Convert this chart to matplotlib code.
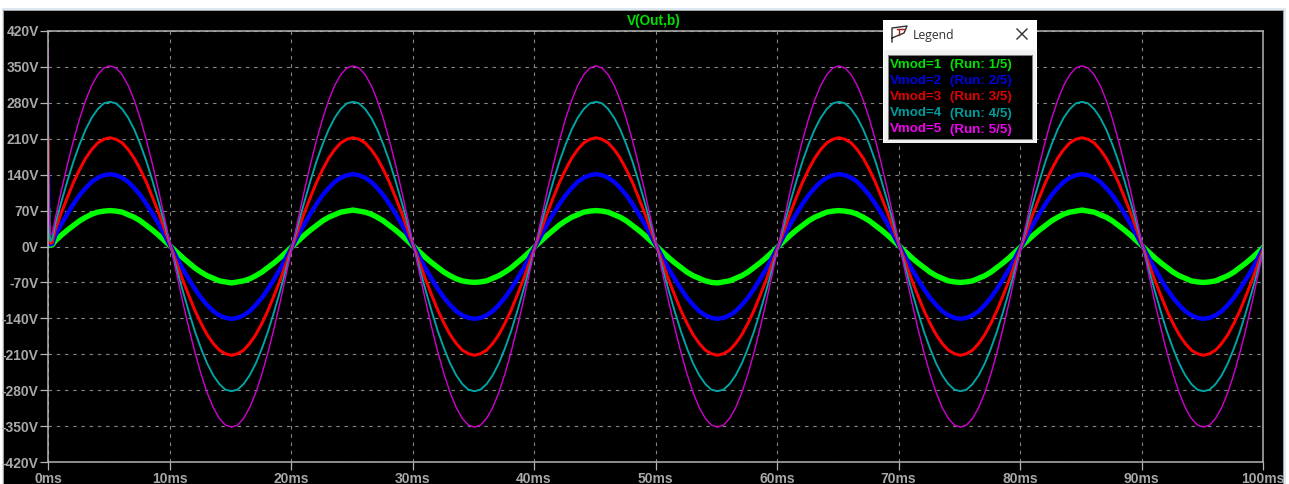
import numpy as np
import matplotlib
matplotlib.use("Agg")
import matplotlib.pyplot as plt
from matplotlib.patches import Rectangle
from matplotlib.lines import Line2D

# ---- data (volts) ----
title = "V(Out,b)"
legend_left = ["Vmod=1", "Vmod=2", "Vmod=3", "Vmod=4", "Vmod=5"]
legend_right = ["(Run: 1/5)", "(Run: 2/5)", "(Run: 3/5)", "(Run: 4/5)", "(Run: 5/5)"]
colors = ["#00ff00", "#0000ff", "#ff0000", "#00a5a5", "#d000d0"]
legend_colors = ["#00e000", "#0000e0", "#e00000", "#009c9c", "#f000f0"]
widths_px = [5.4, 4.4, 3.0, 1.9, 1.4]

x_ticks = [0, 10, 20, 30, 40, 50, 60, 70, 80, 90, 100]
x_labels = ["0ms", "10ms", "20ms", "30ms", "40ms", "50ms", "60ms", "70ms", "80ms", "90ms", "100ms"]
y_ticks = [420, 350, 280, 210, 140, 70, 0, -70, -140, -210, -280, -350, -420]
y_labels = ["420V", "350V", "280V", "210V", "140V", "70V", "0V", "-70V", "-140V", "-210V", "-280V", "-350V", "-420V"]

t_start = [0.0, 0.03, 0.08, 0.2, 0.35]
start_v1 = [70, 30, 8, 3, 3]
start_v2 = [140, 60, 15, 4, 5]
start_v3 = [210, 90, 20, 6, 8]
start_v4 = [345, 130, 30, 10, 14]
start_v5 = [393, 130, 68, 25, 24]

sample_start = 0.6
sample_step = 0.5

v1 = [
    11,22,32,41,50,57,63,67,69,70,69,67,62,57,50,41,32,22,11,0,
    -11,-22,-32,-42,-50,-57,-62,-67,-69,-71,-69,-67,-63,-57,-50,-41,-32,-22,-11,0,
    11,22,32,41,50,57,62,67,69,71,69,67,63,57,50,41,32,22,11,0,
    -11,-22,-32,-41,-50,-57,-63,-67,-69,-70,-69,-67,-62,-57,-50,-42,-32,-22,-11,0,
    11,22,32,42,50,57,62,67,69,70,69,67,62,57,50,41,32,22,11,0,
    -11,-22,-32,-41,-50,-57,-62,-67,-70,-71,-69,-67,-62,-57,-50,-41,-32,-22,-11,0,
    11,22,32,41,50,57,62,67,69,70,69,67,63,57,50,41,32,22,11,0,
    -11,-22,-32,-41,-50,-57,-62,-67,-69,-70,-69,-67,-62,-57,-50,-41,-32,-22,-11,0,
    11,22,32,41,50,57,63,67,69,71,69,67,62,57,50,41,32,22,11,0,
    -11,-22,-32,-41,-50,-57,-62,-67,-69,-70,-69,-67,-62,-57,-50,-41,-32,-22,-11,0,
]
v2 = [
    22,44,64,83,100,114,126,134,139,141,139,134,126,114,100,83,64,44,22,0,
    -22,-44,-64,-83,-100,-114,-126,-134,-139,-141,-139,-134,-126,-114,-100,-83,-64,-44,-22,0,
    22,44,64,83,100,114,126,134,139,141,139,134,126,114,100,83,64,44,22,0,
    -22,-44,-64,-83,-100,-114,-126,-134,-139,-141,-139,-134,-126,-114,-100,-83,-64,-44,-22,0,
    22,44,64,83,100,114,126,134,139,141,139,134,126,114,100,83,64,44,22,0,
    -22,-44,-64,-83,-100,-114,-126,-134,-139,-141,-139,-134,-126,-114,-100,-83,-64,-44,-22,0,
    22,44,64,83,100,114,126,134,139,141,139,134,126,114,100,83,64,44,22,0,
    -22,-44,-64,-83,-100,-114,-126,-134,-139,-141,-139,-134,-126,-114,-100,-83,-64,-44,-22,0,
    22,44,64,83,100,114,126,134,139,141,139,134,126,114,100,83,64,44,22,0,
    -22,-44,-64,-83,-100,-114,-126,-134,-139,-141,-139,-134,-126,-114,-100,-83,-64,-44,-22,0,
]
v3 = [
    33,66,96,125,150,172,189,202,209,212,209,202,189,172,150,125,96,66,33,0,
    -33,-66,-96,-125,-150,-172,-189,-202,-209,-212,-209,-202,-189,-172,-150,-125,-96,-66,-33,0,
    33,66,96,125,150,172,189,202,209,212,209,202,189,172,150,125,96,66,33,0,
    -33,-66,-96,-125,-150,-172,-189,-202,-209,-212,-209,-202,-189,-172,-150,-125,-96,-66,-33,0,
    33,66,96,125,150,172,189,202,209,212,209,202,189,172,150,125,96,66,33,0,
    -33,-66,-96,-125,-150,-172,-189,-202,-209,-212,-209,-202,-189,-172,-150,-125,-96,-66,-33,0,
    33,66,96,125,150,172,189,202,209,212,209,202,189,172,150,125,96,66,33,0,
    -33,-66,-96,-125,-150,-172,-189,-202,-209,-212,-209,-202,-189,-172,-150,-125,-96,-66,-33,0,
    33,66,96,125,150,172,189,202,209,212,209,202,189,172,150,125,96,66,33,0,
    -33,-66,-96,-125,-150,-172,-189,-202,-209,-212,-209,-202,-189,-172,-150,-125,-96,-66,-33,0,
]
v4 = [
    44,87,128,166,199,228,251,268,279,282,279,268,251,228,199,166,128,87,44,0,
    -44,-87,-128,-166,-199,-228,-251,-268,-279,-282,-279,-268,-251,-228,-199,-166,-128,-87,-44,0,
    44,87,128,166,199,228,251,268,279,282,279,268,251,228,199,166,128,87,44,0,
    -44,-87,-128,-166,-199,-228,-251,-268,-279,-282,-279,-268,-251,-228,-199,-166,-128,-87,-44,0,
    44,87,128,166,199,228,251,268,279,282,279,268,251,228,199,166,128,87,44,0,
    -44,-87,-128,-166,-199,-228,-251,-268,-279,-282,-279,-268,-251,-228,-199,-166,-128,-87,-44,0,
    44,87,128,166,199,228,251,268,279,282,279,268,251,228,199,166,128,87,44,0,
    -44,-87,-128,-166,-199,-228,-251,-268,-279,-282,-279,-268,-251,-228,-199,-166,-128,-87,-44,0,
    44,87,128,166,199,228,251,268,279,282,279,268,251,228,199,166,128,87,44,0,
    -44,-87,-128,-166,-199,-228,-251,-268,-279,-282,-279,-268,-251,-228,-199,-166,-128,-87,-44,0,
]
v5 = [
    55,109,160,207,249,285,314,335,348,352,348,335,314,285,249,207,160,109,55,0,
    -55,-109,-160,-207,-249,-285,-314,-335,-348,-352,-348,-335,-314,-285,-249,-207,-160,-109,-55,0,
    55,109,160,207,249,285,314,335,348,352,348,335,314,285,249,207,160,109,55,0,
    -55,-109,-160,-207,-249,-285,-314,-335,-348,-352,-348,-335,-314,-285,-249,-207,-160,-109,-55,0,
    55,109,160,207,249,285,314,335,348,352,348,335,314,285,249,207,160,109,55,0,
    -55,-109,-160,-207,-249,-285,-314,-335,-348,-352,-348,-335,-314,-285,-249,-207,-160,-109,-55,0,
    55,109,160,207,249,285,314,335,348,352,348,335,314,285,249,207,160,109,55,0,
    -55,-109,-160,-207,-249,-285,-314,-335,-348,-352,-348,-335,-314,-285,-249,-207,-160,-109,-55,0,
    55,109,160,207,249,285,314,335,348,352,348,335,314,285,249,207,160,109,55,0,
    -55,-109,-160,-207,-249,-285,-314,-335,-348,-352,-348,-335,-314,-285,-249,-207,-160,-109,-55,0,
]

# ---- figure ----
W, H = 1289, 484
plt.rcParams["font.family"] = ["Liberation Sans", "DejaVu Sans"]
fig = plt.figure(figsize=(W / 100, H / 100), dpi=100, facecolor="white")


def fx(px):
    return px / W


def fy(py):
    return 1 - py / H


def box(x0, y0, x1, y1, fc, ec="none", lw=0, z=0):
    fig.add_artist(Rectangle((fx(x0), fy(y1)), fx(x1) - fx(x0), fy(y0) - fy(y1),
                             transform=fig.transFigure, facecolor=fc, edgecolor=ec,
                             linewidth=lw, zorder=z))


# window frame behind the plot
box(2, 8, 1286, 484, "#dce8f2", z=-3)
box(3, 10, 1284, 484, "#a0a0a0", z=-2)
box(4, 11, 1283, 484, "#000000", z=-1)

ax = fig.add_axes([fx(48), fy(462), fx(1263) - fx(48), fy(31) - fy(462)])
ax.set_facecolor("none")
ax.set_xlim(0, 100)
ax.set_ylim(-420, 420)

gray = "#a8a8a8"
for s in ax.spines.values():
    s.set_color("#b4b4b4")
    s.set_linewidth(1.1)

ax.set_xticks(x_ticks, x_labels)
ax.set_yticks(y_ticks, y_labels)
ax.tick_params(axis="x", length=5.8, width=0.9, color="#b4b4b4", labelcolor=gray,
               labelsize=10, pad=1.6)
ax.tick_params(axis="y", length=5.8, width=0.9, color="#b4b4b4", labelcolor=gray,
               labelsize=10, pad=0.8)
for lab in ax.get_xticklabels() + ax.get_yticklabels():
    lab.set_fontweight("bold")

ax.set_axisbelow(True)
ax.grid(True, color="#858585", linewidth=0.8, linestyle=(0, (3.2, 4.2)))

series = [(start_v1, v1), (start_v2, v2), (start_v3, v3), (start_v4, v4), (start_v5, v5)]
for (start, values), col, wpx in zip(series, colors, widths_px):
    t = np.concatenate([t_start, sample_start + sample_step * np.arange(len(values))])
    y = np.concatenate([start, values])
    ax.plot(t, y, color=col, linewidth=wpx * 0.72, solid_joinstyle="round", clip_on=True)

fig.text(fx(654), fy(20.5), title, color="#00e000", fontsize=9.8, fontweight="bold",
         ha="center", va="center")

# floating legend window
box(883, 20, 1037, 143, "#ffffff", z=5)
box(884, 50, 1036, 143, "#f0f0f0", z=5)
box(888, 55, 1033, 140, "#808080", z=6)
box(889, 56, 1032, 139, "#000000", z=7)

fig.text(fx(913), fy(35), "Legend", color="#303030", fontsize=8.8, ha="left", va="center",
         family=["Open Sans", "DejaVu Sans"], zorder=8)


def seg(xs, ys, col="#303030", lw=0.9):
    fig.add_artist(Line2D([fx(v) for v in xs], [fy(v) for v in ys], color=col, linewidth=lw,
                          transform=fig.transFigure, zorder=8))


# close cross
seg([1017, 1027], [29, 39], lw=1.0)
seg([1027, 1017], [29, 39], lw=1.0)
# flag icon
seg([892, 892, 907, 904, 892], [42, 28, 26, 33, 38], lw=1.0)
seg([897, 902], [29, 29], col="#a02020", lw=1.0)
seg([899, 899], [29, 35], col="#a02020", lw=1.0)
seg([902, 905], [29, 29], col="#a02020", lw=1.0)

legend_rows = [65, 81, 97.3, 113.5, 129.5]
for yy, left, right, col in zip(legend_rows, legend_left, legend_right, legend_colors):
    fig.text(fx(889.5), fy(yy), left, color=col, fontsize=9.6, fontweight="bold",
             ha="left", va="center", zorder=9)
    fig.text(fx(950), fy(yy), right, color=col, fontsize=9.6, fontweight="bold",
             ha="left", va="center", zorder=9)

fig.savefig("out.png", dpi=100, facecolor="white")
